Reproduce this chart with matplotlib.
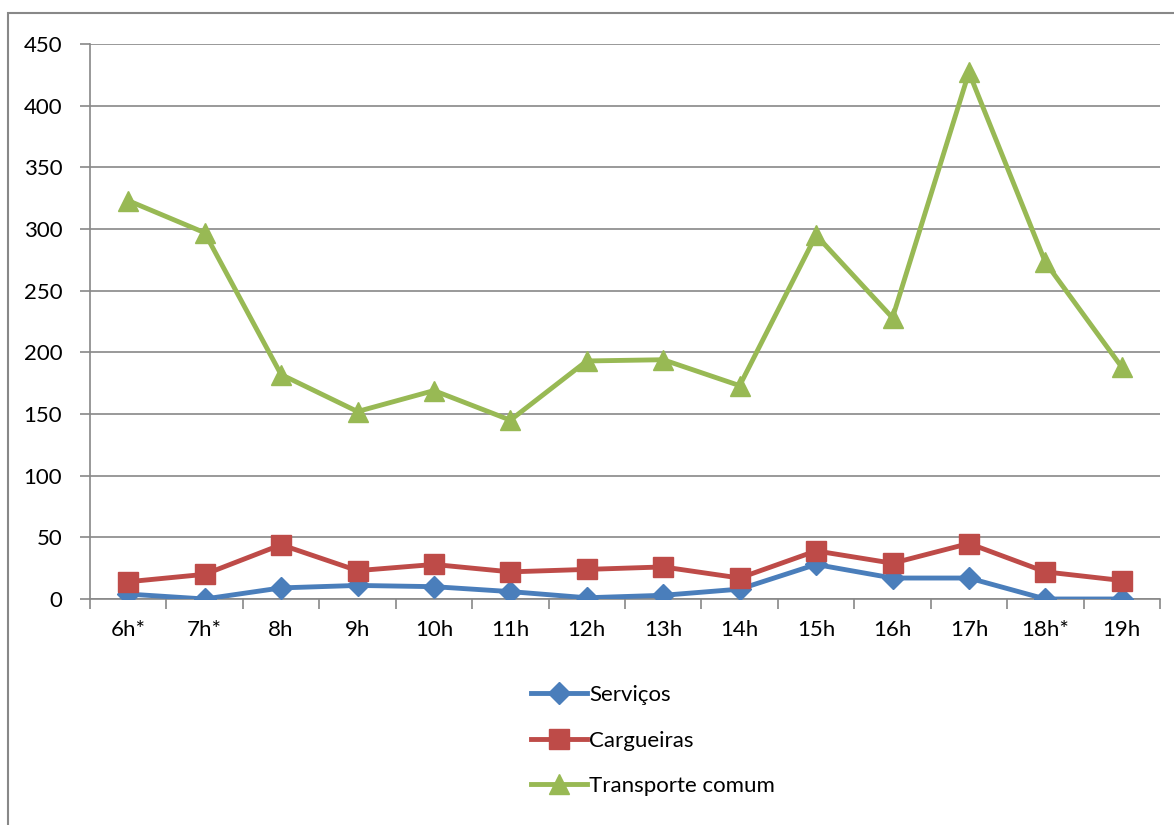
import matplotlib
matplotlib.use("Agg")
import matplotlib.pyplot as plt
from matplotlib.patches import Rectangle
import numpy as np

categories = ["6h*", "7h*", "8h", "9h", "10h", "11h", "12h", "13h", "14h", "15h", "16h", "17h", "18h*", "19h"]
servicos = [4, 0, 9, 11, 10, 6, 1, 3, 8, 28, 17, 17, 0, 0]
cargueiras = [14, 20, 44, 23, 28, 22, 24, 26, 17, 39, 29, 45, 22, 15]
transporte = [323, 297, 182, 152, 169, 145, 193, 194, 173, 295, 228, 427, 273, 188]
yticks = list(range(0, 451, 50))

plt.rcParams['font.family'] = ['Lato', 'DejaVu Sans']

W, H = 1174, 825
fig = plt.figure(figsize=(W / 100, H / 100), dpi=100)
ax = fig.add_axes([90 / W, 1 - 599 / H, (1160 - 90) / W, (599 - 44) / H])

# outer chart border
fig.patches.append(Rectangle((8 / W, -0.01), 1.2, 1 - 13 / H + 0.01, transform=fig.transFigure,
                             fill=False, edgecolor="#888888", linewidth=1.5))

x = np.arange(len(categories))
ax.plot(x, servicos, color="#4A7EBB", lw=3.5, marker="D", ms=11, label="Serviços", zorder=3)
ax.plot(x, cargueiras, color="#BE4B48", lw=3.5, marker="s", ms=14, label="Cargueiras", zorder=4)
ax.plot(x, transporte, color="#98B954", lw=3.5, marker="^", ms=15, label="Transporte comum", zorder=5)

ax.set_xlim(-0.5, len(categories) - 0.5)
ax.set_ylim(0, 450)
ax.set_yticks(yticks)
ax.yaxis.grid(True, color="#888888", lw=1.2)
ax.set_axisbelow(True)
ax.set_xticks(x)
ax.set_xticklabels(categories)
ax.set_xticks(np.arange(-0.5, len(categories), 1), minor=True)
ax.tick_params(axis="x", which="major", length=0, pad=15, labelsize=16)
ax.tick_params(axis="x", which="minor", length=7, width=1.2, color="#888888")
ax.tick_params(axis="y", length=7, width=1.2, color="#888888", labelsize=16, pad=13)
for s in ["top", "right"]:
    ax.spines[s].set_visible(False)
for s in ["left", "bottom"]:
    ax.spines[s].set_color("#888888")
    ax.spines[s].set_linewidth(1.2)

leg = fig.legend(loc="upper left", bbox_to_anchor=(520 / W, 1 - 674 / H), frameon=False,
                 fontsize=16, handlelength=2.5, handletextpad=0.1, labelspacing=1.15,
                 borderpad=0)

fig.savefig("out.png", dpi=100)
